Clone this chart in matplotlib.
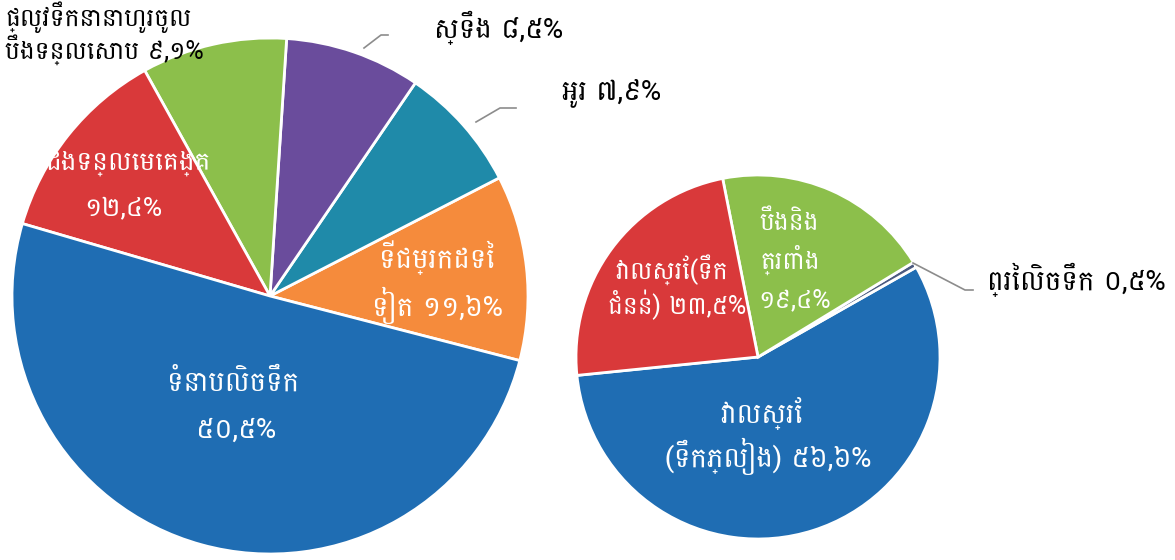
import matplotlib
matplotlib.use("Agg")
import matplotlib.pyplot as plt

# left pie: habitat types, right pie: rice field and other wetlands
left_names = ["ទីជម្រកដទៃ\nទៀត", "អូរ", "ស្ទឹង", "ផ្លូវទឹកនានាហូរចូល\nបឹងទន្លេសាប", "ដងទន្លេមេគង្គ", "ទំនាបលិចទឹក"]
left_values = [11.6, 7.9, 8.5, 9.1, 12.4, 50.5]
left_colors = ["#f58b3c", "#1f8aa9", "#6a4c9c", "#8cbf4b", "#d9393a", "#1f6db3"]

right_names = ["វាលស្រែ\n(ទឹកភ្លៀង)", "ព្រៃលិចទឹក", "បឹងនិង\nត្រពាំង", "វាលស្រែ(ទឹក\nជំនន់)"]
right_values = [56.6, 0.5, 19.4, 23.5]
right_colors = ["#1f6db3", "#4b5a80", "#8cbf4b", "#d9393a"]

KHMER_DIGITS = "០១២៣៤៥៦៧៨៩"


def khmer_pct(v):
    s = "{:.1f}".format(v).replace(".", ",")
    s = "".join(KHMER_DIGITS[int(c)] if c.isdigit() else c for c in s)
    return s + "%"


plt.rcParams["font.family"] = ["Battambang", "Noto Sans Khmer", "DejaVu Sans"]

H = 560
fig = plt.figure(figsize=(11.75, 5.6), dpi=100)
ax = fig.add_axes([0, 0, 1, 1])

wp = dict(edgecolor="white", linewidth=2)
ax.pie(left_values, colors=left_colors, center=(270, H - 296), radius=258,
       startangle=-14.5, counterclock=True, wedgeprops=wp)
ax.pie(right_values, colors=right_colors, center=(758, H - 357), radius=182,
       startangle=185.8, counterclock=True, wedgeprops=wp)

ax.set_xlim(0, 1175)
ax.set_ylim(0, H)
ax.set_aspect("equal")
ax.axis("off")


def label(xs, ys, txt, color="white", ha="center", size=20):
    # one text per line so the line gaps follow the reference
    for x, y, line in zip(xs, ys, txt.split("\n")):
        ax.text(x, H - y, line, color=color, ha=ha, va="center", fontsize=size)


def leader(pts):
    xs = [p[0] for p in pts]
    ys = [H - p[1] for p in pts]
    ax.plot(xs, ys, color="#8c8c8c", linewidth=1.2)


# inside labels
label([437, 437], [258, 305], left_names[0] + " " + khmer_pct(left_values[0]))
label([128, 123], [163, 208], left_names[4] + "\n" + khmer_pct(left_values[4]), size=19)
label([233, 236], [383, 430], left_names[5] + "\n" + khmer_pct(left_values[5]))
label([672, 677], [270, 305], right_names[3] + " " + khmer_pct(right_values[3]), size=18)
label([789, 790, 795], [222, 260, 300], right_names[2] + "\n" + khmer_pct(right_values[2]), size=18)
label([762, 768], [413, 456], right_names[0] + " " + khmer_pct(right_values[0]))

# outside labels
label([5, 5], [17, 50], left_names[3] + " " + khmer_pct(left_values[3]),
      color="black", ha="left", size=18)
label([498], [28], left_names[2] + " " + khmer_pct(left_values[2]), color="black")
label([611], [93], left_names[1] + " " + khmer_pct(left_values[1]), color="black")
label([1076], [280], right_names[1] + " " + khmer_pct(right_values[1]), color="black")

leader([(364, 48), (381, 35), (388, 35)])
leader([(476, 122), (500, 108), (516, 108)])
leader([(913, 263), (965, 290), (973, 290)])

fig.savefig("out.png", dpi=100)
